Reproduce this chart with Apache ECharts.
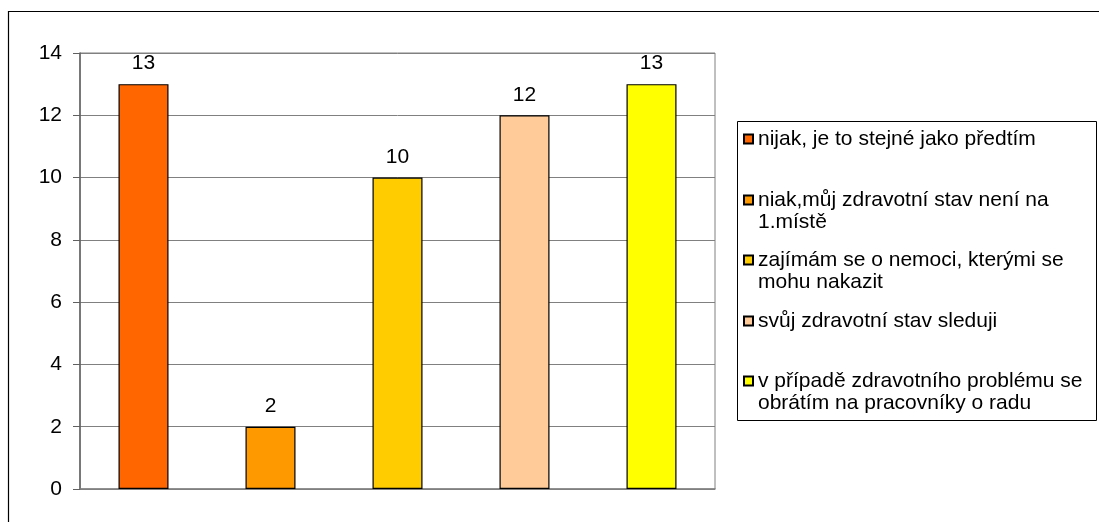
<!DOCTYPE html>
<html>
<head>
<meta charset="utf-8">
<script src="https://cdn.jsdelivr.net/npm/echarts@6/dist/echarts.min.js"></script>
<style>
  html, body { margin: 0; padding: 0; background: #fff; }
  #chart { width: 1099px; height: 522px; }
</style>
</head>
<body>
<div id="chart"></div>
<script>
// Answers and their counts
const categories = [
  'nijak, je to stejné jako předtím',
  'niak,můj zdravotní stav není na 1.místě',
  'zajímám se o nemoci, kterými se mohu nakazit',
  'svůj zdravotní stav sleduji',
  'v případě zdravotního problému se obrátím na pracovníky o radu'
];
// legend text, split into the lines used in the key
const legendLines = [
  ['nijak, je to stejné jako předtím'],
  ['niak,můj zdravotní stav není na', '1.místě'],
  ['zajímám se o nemoci, kterými se', 'mohu nakazit'],
  ['svůj zdravotní stav sleduji'],
  ['v případě zdravotního problému se', 'obrátím na pracovníky o radu']
];
const values = [13, 2, 10, 12, 13];
const colors = ['#FF6600', '#FF9900', '#FFCC00', '#FFCC99', '#FFFF00'];
const yTicks = { min: 0, max: 14, interval: 2 };

const FONT = '"Liberation Sans", Arial, sans-serif';
const FS = 21;
const LH = 22;
// vertical centre of each legend marker
const legendCentres = [139, 200, 260, 321, 381];

const series = categories.map((name, i) => ({
  name: name,
  type: 'bar',
  stack: 'one',
  barWidth: 50,
  data: values.map((v, j) => (j === i ? v : null)),
  itemStyle: { color: colors[i], borderColor: '#000', borderWidth: 1.2 },
  label: {
    show: true,
    position: 'top',
    distance: 10,
    color: '#000',
    fontFamily: FONT,
    fontSize: FS
  },
  emphasis: { disabled: true }
}));

// One legend per entry so each sits in its own slot of the key.
// Wrapped entries get an empty leading line so the first line
// stays level with the marker (legend text is centred on it).
const legends = categories.map((name, i) => {
  const lines = legendLines[i];
  const text = lines.length > 1 ? '\n' + lines.join('\n') : lines[0];
  const nLines = lines.length > 1 ? 3 : 1;
  return {
    left: 743,
    top: legendCentres[i] - (nLines * LH) / 2,
    padding: 0,
    itemWidth: 9,
    itemHeight: 9,
    icon: 'rect',
    selectedMode: false,
    data: [{ name: name }],
    formatter: () => text,
    textStyle: {
      color: '#000',
      fontFamily: FONT,
      fontSize: FS,
      lineHeight: LH
    }
  };
});

const chart = echarts.init(document.getElementById('chart'));
chart.setOption({
  animation: false,
  backgroundColor: '#fff',
  grid: {
    left: 80, right: 384, top: 53, bottom: 33,
    show: true, borderColor: '#808080', borderWidth: 1
  },
  xAxis: {
    type: 'category',
    data: categories,
    axisLine: { lineStyle: { color: '#808080', width: 1.5 } },
    axisTick: { show: false },
    axisLabel: { show: false }
  },
  yAxis: {
    type: 'value',
    min: yTicks.min, max: yTicks.max, interval: yTicks.interval,
    axisLine: { show: true, lineStyle: { color: '#606060', width: 1.5 } },
    axisTick: { show: true, length: 7, lineStyle: { color: '#606060' } },
    axisLabel: { color: '#000', fontFamily: FONT, fontSize: FS, margin: 18 },
    splitLine: { lineStyle: { color: '#808080', width: 1 } }
  },
  legend: legends,
  graphic: [
    {
      type: 'rect',
      shape: { x: 8.5, y: 11.5, width: 1200, height: 600 },
      style: { fill: null, stroke: '#000', lineWidth: 1.2 },
      silent: true
    },
    {
      type: 'rect',
      shape: { x: 737.5, y: 121.5, width: 359, height: 299 },
      style: { fill: null, stroke: '#000', lineWidth: 1 },
      silent: true,
      z: -1
    }
  ],
  series: series
});
</script>
</body>
</html>
